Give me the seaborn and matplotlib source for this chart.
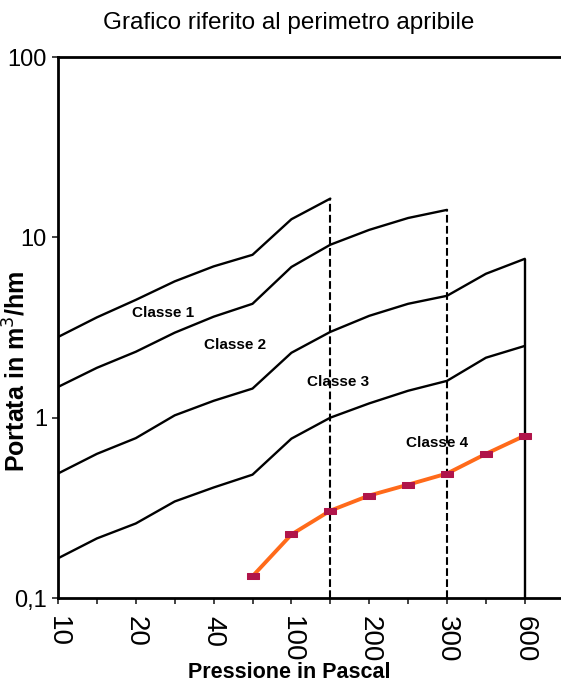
import matplotlib
matplotlib.use("Agg")
import matplotlib.pyplot as plt
import seaborn as sns
import pandas as pd
import numpy as np

# pressure steps (Pa) on the x axis, evenly spaced
pressures = [10, 15, 20, 30, 40, 50, 100, 150, 200, 250, 300, 450, 600]
tick_labels = ["10", "", "20", "", "40", "", "100", "", "200", "", "300", "", "600"]

# class limits, m3/hm
classe1 = [2.8, 3.6, 4.5, 5.7, 6.9, 8.0, 12.6, 16.4]
classe2 = [1.48, 1.89, 2.32, 2.96, 3.63, 4.28, 6.85, 9.1, 11.0, 12.8, 14.2]
classe3 = [0.49, 0.63, 0.77, 1.03, 1.24, 1.45, 2.29, 2.99, 3.67, 4.28, 4.74, 6.28, 7.6]
classe4 = [0.166, 0.214, 0.259, 0.343, 0.41, 0.483, 0.765, 1.0, 1.2, 1.41, 1.6, 2.15, 2.5]

# measured sample, from 50 Pa to 600 Pa
misura_p = [50, 100, 150, 200, 250, 300, 450, 600]
misura = [0.132, 0.225, 0.305, 0.37, 0.425, 0.49, 0.63, 0.795]

# end pressure of each class and line style of its vertical
fine_classe = {"Classe 1": (150, "--"), "Classe 2": (300, "--"), "Classe 3": (600, "-")}

rows = []
for name, vals in [("Classe 1", classe1), ("Classe 2", classe2),
                   ("Classe 3", classe3), ("Classe 4", classe4)]:
    for p, v in zip(pressures, vals):
        rows.append({"classe": name, "pos": pressures.index(p), "portata": v})
df = pd.DataFrame(rows)
df_mis = pd.DataFrame({"pos": [pressures.index(p) for p in misura_p], "portata": misura})

sns.set_style("white")
plt.rcParams["font.family"] = ["Liberation Sans", "DejaVu Sans"]
for k in ["text.color", "axes.labelcolor", "xtick.color", "ytick.color"]:
    plt.rcParams[k] = "black"

fig = plt.figure(figsize=(5.61, 6.90), dpi=100)
ax = fig.add_axes([58 / 561, 92 / 690, 503 / 561, 541 / 690])

sns.lineplot(data=df, x="pos", y="portata", units="classe", estimator=None,
             color="black", linewidth=1.7, ax=ax, legend=False)

for name, (p, ls) in fine_classe.items():
    vals = df[df["classe"] == name]
    top = vals["portata"].iloc[-1]
    ax.vlines(pressures.index(p), 0.1, top, colors="black", linestyles=ls,
              linewidth=1.7 if ls == "-" else 1.5)

rect = [(-1, -0.5), (1, -0.5), (1, 0.5), (-1, 0.5), (-1, -0.5)]
sns.lineplot(data=df_mis, x="pos", y="portata", color="#ff6a1a", linewidth=2.8,
             marker=rect, markersize=9, markerfacecolor="#b0144a",
             markeredgecolor="#b0144a", ax=ax, legend=False)

ax.set_yscale("log")
ax.set_ylim(0.1, 100)
ax.set_xlim(0, 12.93)
ax.set_yticks([0.1, 1, 10, 100])
ax.set_yticklabels(["0,1", "1", "10", "100"], fontsize=17)
ax.yaxis.set_minor_locator(matplotlib.ticker.NullLocator())
ax.set_xticks(range(len(pressures)))
ax.set_xticklabels(tick_labels, rotation=270, fontsize=20)
ax.tick_params(axis="both", direction="out", length=4, width=1.2, color="#222222",
               bottom=True, left=True)
ax.tick_params(axis="x", pad=9)
ax.tick_params(axis="y", pad=4)

for s in ["left", "top", "bottom"]:
    ax.spines[s].set_color("black")
    ax.spines[s].set_linewidth(2)
ax.spines["right"].set_visible(False)

labels = {"Classe 1": (2.7, 3.8), "Classe 2": (4.55, 2.54),
          "Classe 3": (7.2, 1.58), "Classe 4": (9.74, 0.727)}
for txt, (x, y) in labels.items():
    ax.text(x, y, txt, fontsize=11, fontweight="bold", ha="center", va="center")

ax.set_xlabel("Pressione in Pascal", fontsize=15.5, fontweight="bold")
ax.xaxis.set_label_coords(0.46, -0.137)
ax.xaxis.label.set_va("center")
ax.set_ylabel("Portata in m$^3$/hm", fontsize=18, fontweight="bold")
ax.yaxis.set_label_coords(-0.082, 0.42)
ax.yaxis.label.set_va("center")
fig.text(0.515, 0.966, "Grafico riferito al perimetro apribile", fontsize=17.5,
         ha="center", va="center")

fig.savefig("out.png", dpi=100)
